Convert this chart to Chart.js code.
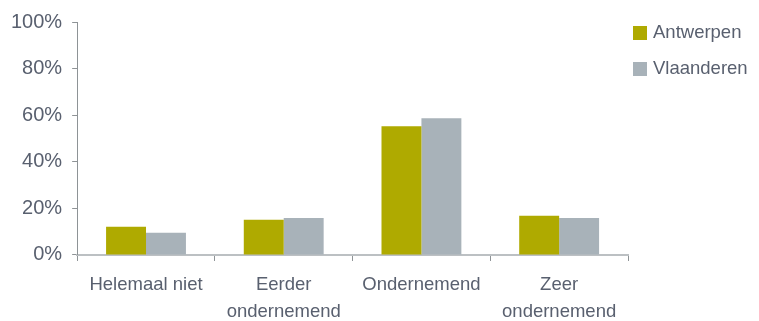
<!DOCTYPE html>
<html>
<head>
<meta charset="utf-8">
<script src="https://cdn.jsdelivr.net/npm/chart.js@4/dist/chart.umd.min.js"></script>
<style>
  html, body { margin: 0; padding: 0; background: #fff; }
  #wrap { position: relative; width: 759px; height: 321px; }
  #legend { position: absolute; left: 633px; top: 21px; font-family: "Liberation Sans", Arial, sans-serif; font-size: 18.5px; color: #59606f; }
  #legend div { height: 36px; display: flex; align-items: flex-start; }
  #legend span.box { display: inline-block; width: 14px; height: 14px; margin-top: 5px; margin-right: 6px; }
</style>
</head>
<body>
<div id="wrap">
  <canvas id="chart" width="759" height="321"></canvas>
  <div id="legend"></div>
</div>
<script>
document.addEventListener("DOMContentLoaded", () => {

  const categories = [["Helemaal niet"], ["Eerder", "ondernemend"], ["Ondernemend"], ["Zeer", "ondernemend"]];
  const antwerpen = [12.1, 15.1, 55.3, 16.8];
  const vlaanderen = [9.5, 15.9, 58.7, 15.9];
  const seriesNames = ["Antwerpen", "Vlaanderen"];
  const seriesColors = ["#afaa00", "#a8b2b9"];

  const textColor = "#59606f";
  const font = "'Liberation Sans', Arial, sans-serif";

  // legend (html, right side)
  const leg = document.getElementById("legend");
  seriesNames.forEach((n, i) => {
    const row = document.createElement("div");
    row.innerHTML = '<span class="box" style="background:' + seriesColors[i] + '"></span>' + n;
    leg.appendChild(row);
  });

  new Chart(document.getElementById("chart"), {
    type: "bar",
    data: {
      labels: categories,
      datasets: [
        { label: seriesNames[0], data: antwerpen, backgroundColor: seriesColors[0] },
        { label: seriesNames[1], data: vlaanderen, backgroundColor: seriesColors[1] }
      ]
    },
    options: {
      responsive: false,
      animation: false,
      layout: { padding: { left: 1, top: 19, right: 131, bottom: -14 } },
      datasets: { bar: { categoryPercentage: 0.58, barPercentage: 1 } },
      plugins: { legend: { display: false }, tooltip: { enabled: false } },
      scales: {
        x: {
          grid: { drawOnChartArea: false, tickLength: 6, color: "#8e9396" },
          border: { color: "#bcc0c3", width: 2 },
          ticks: { color: textColor, font: { family: font, size: 18.5, lineHeight: 1.46 }, padding: 10, maxRotation: 0 }
        },
        y: {
          min: 0, max: 100,
          grid: { drawOnChartArea: false, tickLength: 5, color: "#8e9396" },
          border: { color: "#8e9396", width: 1 },
          ticks: { stepSize: 20, color: textColor, font: { family: font, size: 20 }, padding: 10, callback: v => v + "%" }
        }
      }
    }
  });

});
</script>
</body>
</html>
